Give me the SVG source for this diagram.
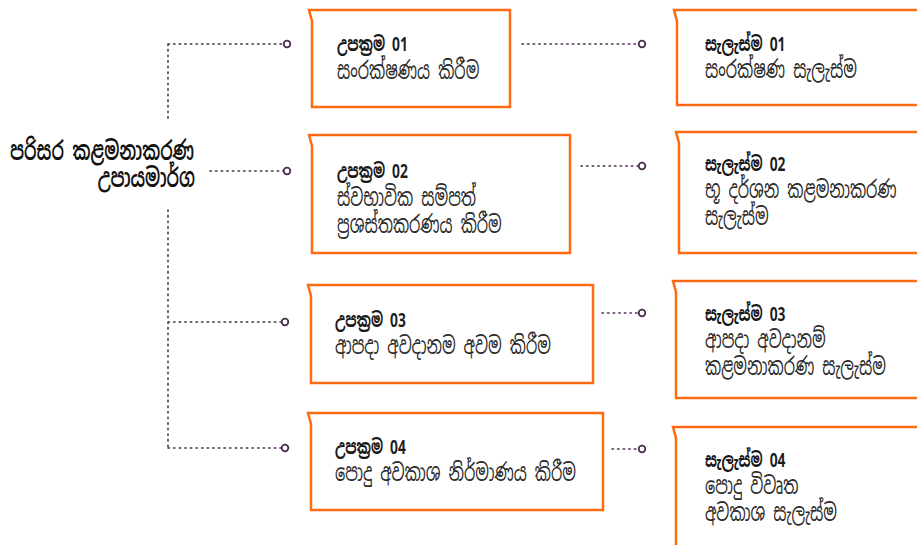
<svg xmlns="http://www.w3.org/2000/svg" width="917" height="545" viewBox="0 0 917 545">
<defs>
<style>
.box{fill:#fff;stroke:#ff6a13;stroke-width:2.5;stroke-linejoin:miter}
.dot{fill:none;stroke:#4b2d4f;stroke-width:1.6;stroke-dasharray:1.4 4.2;stroke-linecap:round}
.end{fill:#fff;stroke:#4b2d4f;stroke-width:1.8}
text{font-family:"Noto Sans Sinhala","Iskoola Pota","Noto Sans","DejaVu Sans",sans-serif;font-variant-numeric:oldstyle-nums}
.h{font-size:20px;font-weight:bold;fill:#1a1a1a}
.b{font-size:24px;fill:#2b2b2b}
.t{font-size:26px;font-weight:600;fill:#111}
</style>
</defs>
<rect width="917" height="545" fill="#fff"/>
<g id="connectors">
<path class="dot" d="M168,44 V122 M168,210 V448 M168,44 H284 M210,171 H284 M168,322 H282 M168,448 H282"/>
<path class="dot" d="M522,44 H639 M581,166 H639 M602,313 H639 M612,449 H639"/>
<circle class="end" cx="287" cy="44" r="3.3"/>
<circle class="end" cx="287" cy="171" r="3.3"/>
<circle class="end" cx="285" cy="322" r="3.3"/>
<circle class="end" cx="285" cy="448" r="3.3"/>
<circle class="end" cx="642" cy="44" r="3.3"/>
<circle class="end" cx="642" cy="166" r="3.3"/>
<circle class="end" cx="642" cy="313" r="3.3"/>
<circle class="end" cx="642" cy="449" r="3.3"/>
</g>
<g id="title">
<text class="t" transform="matrix(0.67 0 0 1 10 0)" x="0" y="160">පරිසර කළමනාකරණ</text>
<text class="t" transform="matrix(0.67 0 0 1 195 0)" x="0" y="187" text-anchor="end">උපායමාර්ග</text>
</g>
<g id="s1">
<path class="box" d="M309,10 H510 V107 H312 V21 Z"/>
<text class="h" transform="matrix(0.69 0 0 1 337 0)" y="51">උපක්‍රම 01</text>
<text class="b" transform="matrix(0.67 0 0 1 337 0)" y="79">සංරක්ෂණය කිරීම</text>
</g>
<g id="s2">
<path class="box" d="M309,135 H570 V253 H312 V146 Z"/>
<text class="h" transform="matrix(0.69 0 0 1 337 0)" y="178">උපක්‍රම 02</text>
<text class="b" transform="matrix(0.67 0 0 1 337 0)" y="206">ස්වභාවික සම්පත්</text>
<text class="b" transform="matrix(0.67 0 0 1 337 0)" y="233">ප්‍රශස්තකරණය කිරීම</text>
</g>
<g id="s3">
<path class="box" d="M308,285 H593 V383 H311 V296 Z"/>
<text class="h" transform="matrix(0.69 0 0 1 335 0)" y="327">උපක්‍රම 03</text>
<text class="b" transform="matrix(0.67 0 0 1 335 0)" y="354">ආපදා අවදානම අවම කිරීම</text>
</g>
<g id="s4">
<path class="box" d="M308,413 H603 V510 H311 V424 Z"/>
<text class="h" transform="matrix(0.69 0 0 1 335 0)" y="454">උපක්‍රම 04</text>
<text class="b" transform="matrix(0.67 0 0 1 335 0)" y="481">පොදු අවකාශ නිර්මාණය කිරීම</text>
</g>
<g id="p1">
<path class="box" d="M674,10 H925 V105 H677 V21 Z"/>
<text class="h" transform="matrix(0.69 0 0 1 705 0)" y="51">සැලැස්ම 01</text>
<text class="b" transform="matrix(0.67 0 0 1 705 0)" y="78">සංරක්ෂණ සැලැස්ම</text>
</g>
<g id="p2">
<path class="box" d="M676,132 H925 V253 H679 V143 Z"/>
<text class="h" transform="matrix(0.69 0 0 1 705 0)" y="171">සැලැස්ම 02</text>
<text class="b" transform="matrix(0.67 0 0 1 705 0)" y="198">භූ දර්ශන කළමනාකරණ</text>
<text class="b" transform="matrix(0.67 0 0 1 705 0)" y="225">සැලැස්ම</text>
</g>
<g id="p3">
<path class="box" d="M673,281 H925 V398 H676 V292 Z"/>
<text class="h" transform="matrix(0.69 0 0 1 705 0)" y="321">සැලැස්ම 03</text>
<text class="b" transform="matrix(0.67 0 0 1 705 0)" y="348">ආපදා අවදානම්</text>
<text class="b" transform="matrix(0.67 0 0 1 705 0)" y="375">කළමනාකරණ සැලැස්ම</text>
</g>
<g id="p4">
<path class="box" d="M673,427 H925 V555 H676 V438 Z"/>
<text class="h" transform="matrix(0.69 0 0 1 705 0)" y="467">සැලැස්ම 04</text>
<text class="b" transform="matrix(0.67 0 0 1 705 0)" y="494">පොදු විවෘත</text>
<text class="b" transform="matrix(0.67 0 0 1 705 0)" y="521">අවකාශ සැලැස්ම</text>
</g>
</svg>
